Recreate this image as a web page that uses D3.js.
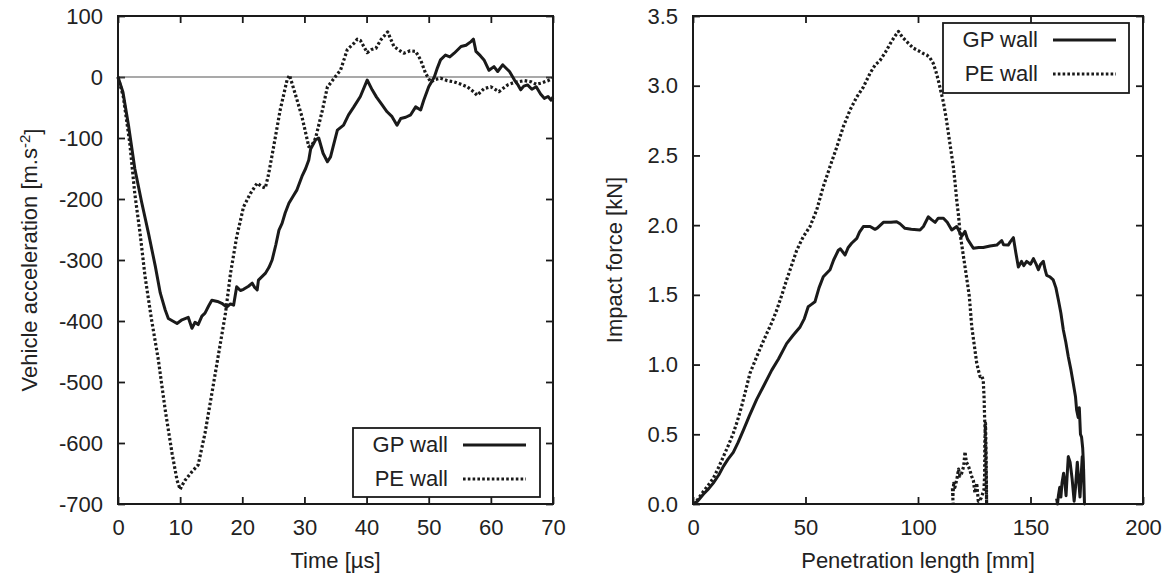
<!DOCTYPE html>
<html>
<head>
<meta charset="utf-8">
<script src="https://cdn.jsdelivr.net/npm/d3@7"></script>
<style>
  html, body { margin: 0; padding: 0; background: #fff; }
  svg { display: block; }
  text { font-family: "Liberation Sans", Arial, Helvetica, sans-serif; fill: #222; }
</style>
</head>
<body>
<svg id="chart" width="1173" height="583"></svg>
<script>
// ---- Vehicle acceleration vs. time ----
const accelTicksX = [0, 10, 20, 30, 40, 50, 60, 70];
const accelTicksY = [-700, -600, -500, -400, -300, -200, -100, 0, 100];

const gpTime = [0,0.8,1.7,2.7,3.8,4.9,6.0,6.8,7.6,8.1,8.8,9.5,10.3,11.3,11.9,12.4,12.9,13.5,14.0,14.6,15.1,16.0,16.7,17.5,18.1,18.6,19.1,19.7,20.2,21.0,21.6,22.0,22.4,22.6,23.7,24.3,24.8,25.4,25.9,26.4,26.9,27.5,28.2,28.8,29.6,30.2,30.7,31.0,31.8,32.3,33.0,33.7,34.2,34.6,35.3,36.3,37.1,37.95,39.0,40.1,40.9,41.6,42.3,43.3,44.1,44.9,45.5,46.3,47.1,47.9,48.7,49.2,50.0,50.9,51.4,51.9,52.7,53.4,54.1,55.2,56.0,56.8,57.2,57.6,58.3,58.9,59.7,60.5,61.1,61.9,62.5,63.0,63.8,64.3,64.8,65.3,65.9,66.6,67.3,68.0,68.6,69.2,69.7,70];
const gpAccel = [0,-25,-80,-150,-205,-256,-310,-354,-382,-396,-400,-404,-398,-394,-412,-402,-406,-392,-387,-375,-366,-368,-371,-377,-372,-374,-344,-350,-348,-343,-338,-345,-349,-333,-322,-312,-300,-275,-251,-240,-223,-207,-195,-185,-163,-150,-136,-118,-103,-100,-125,-139,-131,-115,-87,-79,-62,-49,-32,-5,-21,-33,-43,-57,-65,-79,-68,-66,-62,-49,-54,-38,-16,0,15,28,36,33,39,50,52,58,62,42,35,28,11,17,9,20,14,9,-5,-12,-21,-15,-13,-20,-16,-28,-35,-32,-38,-33];

const peTime = [0,0.85,1.9,2.7,3.55,4.35,5.4,6.5,7.6,8.7,9.5,10.0,10.4,10.8,11.9,12.9,14.0,15.1,16.2,17.3,18.1,19.1,20.2,21.3,22.4,23.2,23.7,24.2,25.05,26.1,27.2,27.6,28.5,29.6,30.7,31.2,31.8,32.9,33.7,34.2,35.0,35.8,36.9,37.95,38.5,39.0,40.1,40.8,41.5,42.3,43.4,44.4,45.2,46.0,47.0,47.9,48.7,49.5,50.3,51.1,51.9,53.0,54.1,55.2,56.2,57.2,57.8,58.9,60.0,61.3,62.7,63.5,64.3,65.4,66.5,67.3,68.1,69.2,70];
const peAccel = [0,-32,-109,-191,-256,-327,-398,-464,-546,-617,-661,-676,-668,-661,-647,-636,-584,-519,-453,-387,-322,-262,-213,-191,-174,-180,-182,-161,-114,-54,-5,3,-27,-65,-114,-112,-100,-54,-16,-10,1,11,45,55,62,60,40,45,47,61,74,50,44,39,43,42,28,6,-8,-4,-2,-6,-8,-12,-16,-24,-30,-19,-16,-24,-13,-10,-8,-6,-8,-12,-10,-6,-2];

// ---- Impact force vs. penetration length ----
const forceTicksX = [0, 50, 100, 150, 200];
const forceTicksY = [0, 0.5, 1.0, 1.5, 2.0, 2.5, 3.0, 3.5];

const gpPen = [0,2,4.6,7,9,11.5,13.5,15.5,17.9,20,22.4,25,28.3,31.5,35,38,41.6,44.5,47.6,49.5,51.2,52.5,54.2,56,57.9,60.9,62.5,64.6,65.5,67.6,69,70.5,72.8,74,75.7,78.7,80.9,82,84.6,88,90.5,92,94.2,97,100.9,102.4,104.6,106,107.6,109,111.3,113,115,117.2,118.5,119.4,120.9,122,124.6,127,129,132,135,137.2,138,140.1,141,142.4,143.5,144.6,146,147,148.3,150,151.3,152.5,153.5,154.5,155.7,156.5,157.2,158.5,160.1,161.3,162.4,163.5,164.6,165.7,166.8,168,169,170,170.5,171.2,171.7,172.2,172.7,173.2,173.5,173.8,174,173.6,173,172.5,172,171.5,170.8,170,169.4,168.5,167.6,166.8,166.2,165.8,165.3,164.7,164,163.5,163,162.4,162,161.6];
const gpForce = [0,0.02,0.07,0.11,0.15,0.21,0.27,0.32,0.37,0.44,0.53,0.63,0.75,0.85,0.96,1.04,1.15,1.21,1.27,1.33,1.415,1.43,1.45,1.55,1.63,1.68,1.75,1.82,1.83,1.786,1.84,1.87,1.905,1.95,1.99,1.99,1.97,1.98,2.02,2.02,2.025,2.01,1.977,1.97,1.965,1.99,2.06,2.04,2.02,2.05,2.05,2.02,1.965,1.99,1.95,1.92,1.955,1.90,1.834,1.84,1.84,1.85,1.857,1.89,1.86,1.857,1.88,1.91,1.80,1.70,1.74,1.71,1.74,1.72,1.76,1.72,1.68,1.72,1.74,1.68,1.64,1.63,1.607,1.55,1.463,1.37,1.248,1.16,1.056,0.96,0.866,0.77,0.674,0.62,0.69,0.5,0.48,0.40,0.30,0.1,0,0.25,0.34,0.2,0.05,0.15,0.3,0.12,0.02,0.18,0.30,0.34,0.18,0.06,0.15,0.22,0.15,0.05,0.12,0.06,0.0,0.04];

const pePen = [0,2,4.6,7,9,11.3,13.5,15.7,17.9,19.8,21.6,23.5,25.3,28.3,30.5,32.8,35,37.2,39.5,41.6,43.8,46.1,49,52,55,57.9,60.9,63.9,66.8,69.8,72.8,75.7,78.7,81,83.1,85.5,87.6,89.5,91.3,93,95,97.9,100.9,102.5,103.9,105.3,106.8,108,109,110.3,111.3,112.5,113.5,114.6,115.7,116.5,117.2,118,118.7,119.8,120.9,122,122.8,123.9,125,126.1,127,127.6,128.3,129,129.4,129.6,130,130.2,130.5,130.3,130,129.7,129.6,129.3,128,126.8,126.1,125.3,124.6,123.8,123.1,122.2,121.5,120.9,120.3,119.4,118.6,118,117.3,116.4,115.9,115.5,115.3,115.6];
const peForce = [0,0.03,0.09,0.14,0.184,0.26,0.34,0.42,0.507,0.60,0.70,0.82,0.937,1.056,1.14,1.224,1.30,1.39,1.50,1.607,1.71,1.82,1.917,1.99,2.11,2.276,2.42,2.56,2.706,2.826,2.92,2.99,3.09,3.15,3.18,3.24,3.30,3.35,3.39,3.35,3.316,3.27,3.245,3.23,3.22,3.20,3.16,3.10,3.04,2.95,2.88,2.77,2.66,2.54,2.42,2.30,2.18,2.07,1.94,1.82,1.70,1.58,1.49,1.27,1.14,1.01,0.95,0.913,0.92,0.89,0.75,0.62,0.45,0.27,0,0.35,0.58,0.45,0.2,0.1,0.04,0.02,0.15,0.08,0.17,0.2,0.24,0.28,0.3,0.375,0.27,0.22,0.2,0.25,0.18,0.12,0.16,0.05,0.12,0.0];

const seriesNames = ["GP wall", "PE wall"];

// ---- drawing ----
const svg = d3.select("#chart");
const FONT = 22;
const ink = "#1a1a1a";
const DOTS = "2.6,2.2";

function zip(xs, ys) { return xs.map((x, i) => [x, ys[i]]); }
// plain hyphen for negatives
const intFmt = d => String(d);
const oneDec = d => d.toFixed(1);

function panel(opt) {
  const g = svg.append("g");
  const x = d3.scaleLinear().domain(opt.xDomain).range([opt.left, opt.right]);
  const y = d3.scaleLinear().domain(opt.yDomain).range([opt.bottom, opt.top]);
  const tick = 7;

  const styleAxis = sel => {
    sel.select(".domain").remove();
    sel.selectAll(".tick line").attr("stroke", ink).attr("stroke-width", 1.8);
    sel.selectAll(".tick text").attr("font-size", FONT).attr("font-family", null).attr("fill", "#222");
  };

  g.append("g").attr("transform", `translate(0,${opt.bottom})`)
    .call(d3.axisBottom(x).tickValues(opt.xTicks).tickSizeInner(-tick).tickSizeOuter(0).tickPadding(15).tickFormat(opt.xFmt))
    .call(styleAxis);
  g.append("g").attr("transform", `translate(0,${opt.top})`)
    .call(d3.axisTop(x).tickValues(opt.xTicks).tickSizeInner(-tick).tickSizeOuter(0).tickFormat(""))
    .call(styleAxis);
  g.append("g").attr("transform", `translate(${opt.left},0)`)
    .call(d3.axisLeft(y).tickValues(opt.yTicks).tickSizeInner(-tick).tickSizeOuter(0).tickPadding(15).tickFormat(opt.yFmt))
    .call(styleAxis);
  g.append("g").attr("transform", `translate(${opt.right},0)`)
    .call(d3.axisRight(y).tickValues(opt.yTicks).tickSizeInner(-tick).tickSizeOuter(0).tickFormat(""))
    .call(styleAxis);

  if (opt.zeroLine) {
    g.append("line")
      .attr("x1", opt.left).attr("x2", opt.right)
      .attr("y1", y(0)).attr("y2", y(0))
      .attr("stroke", "#555").attr("stroke-width", 1.2);
  }

  const line = d3.line().x(d => x(d[0])).y(d => y(d[1]));
  g.append("path").datum(opt.pe).attr("d", line)
    .attr("fill", "none").attr("stroke", ink).attr("stroke-width", 3.2)
    .attr("stroke-dasharray", DOTS).attr("stroke-linejoin", "round");
  g.append("path").datum(opt.gp).attr("d", line)
    .attr("fill", "none").attr("stroke", ink).attr("stroke-width", 3)
    .attr("stroke-linejoin", "round");

  // frame
  g.append("rect")
    .attr("x", opt.left).attr("y", opt.top)
    .attr("width", opt.right - opt.left).attr("height", opt.bottom - opt.top)
    .attr("fill", "none").attr("stroke", ink).attr("stroke-width", 2);

  // x title
  g.append("text")
    .attr("x", (opt.left + opt.right) / 2).attr("y", 568)
    .attr("text-anchor", "middle").attr("font-size", FONT)
    .text(opt.xTitle);

  // y title
  const yt = g.append("text")
    .attr("transform", `translate(${opt.yTitleX},${(opt.top + opt.bottom) / 2}) rotate(-90)`)
    .attr("text-anchor", "middle").attr("font-size", FONT);
  opt.yTitle(yt);

  // legend
  const L = opt.legend;
  g.append("rect")
    .attr("x", L.x).attr("y", L.y).attr("width", L.w).attr("height", L.h)
    .attr("fill", "#fff").attr("stroke", ink).attr("stroke-width", 1.8);
  seriesNames.forEach((name, i) => {
    const cy = L.y + 17 + i * 34;
    g.append("text")
      .attr("x", L.x + 95).attr("y", cy + 7)
      .attr("text-anchor", "end").attr("font-size", FONT)
      .text(name);
    g.append("line")
      .attr("x1", L.x + 110).attr("x2", L.x + 173)
      .attr("y1", cy).attr("y2", cy)
      .attr("stroke", ink).attr("stroke-width", i === 1 ? 3.2 : 3)
      .attr("stroke-dasharray", i === 1 ? DOTS : null);
  });
}

panel({
  left: 118, right: 553, top: 16, bottom: 504,
  xDomain: [0, 70], yDomain: [-700, 100],
  xTicks: accelTicksX, yTicks: accelTicksY,
  xFmt: intFmt, yFmt: intFmt,
  zeroLine: true,
  gp: zip(gpTime, gpAccel), pe: zip(peTime, peAccel),
  xTitle: "Time [\u00b5s]",
  yTitleX: 37,
  yTitle: t => {
    t.append("tspan").text("Vehicle acceleration [m.s");
    t.append("tspan").attr("dy", "-0.45em").attr("font-size", 15).text("-2");
    t.append("tspan").attr("dy", "0.45em").text("]");
  },
  legend: { x: 353, y: 428, w: 187, h: 69 }
});

panel({
  left: 693, right: 1143, top: 16, bottom: 504,
  xDomain: [0, 200], yDomain: [0, 3.5],
  xTicks: forceTicksX, yTicks: forceTicksY,
  xFmt: intFmt, yFmt: oneDec,
  zeroLine: false,
  gp: zip(gpPen, gpForce), pe: zip(pePen, peForce),
  xTitle: "Penetration length [mm]",
  yTitleX: 622,
  yTitle: t => t.text("Impact force [kN]"),
  legend: { x: 943, y: 23, w: 186, h: 70 }
});
</script>
</body>
</html>
